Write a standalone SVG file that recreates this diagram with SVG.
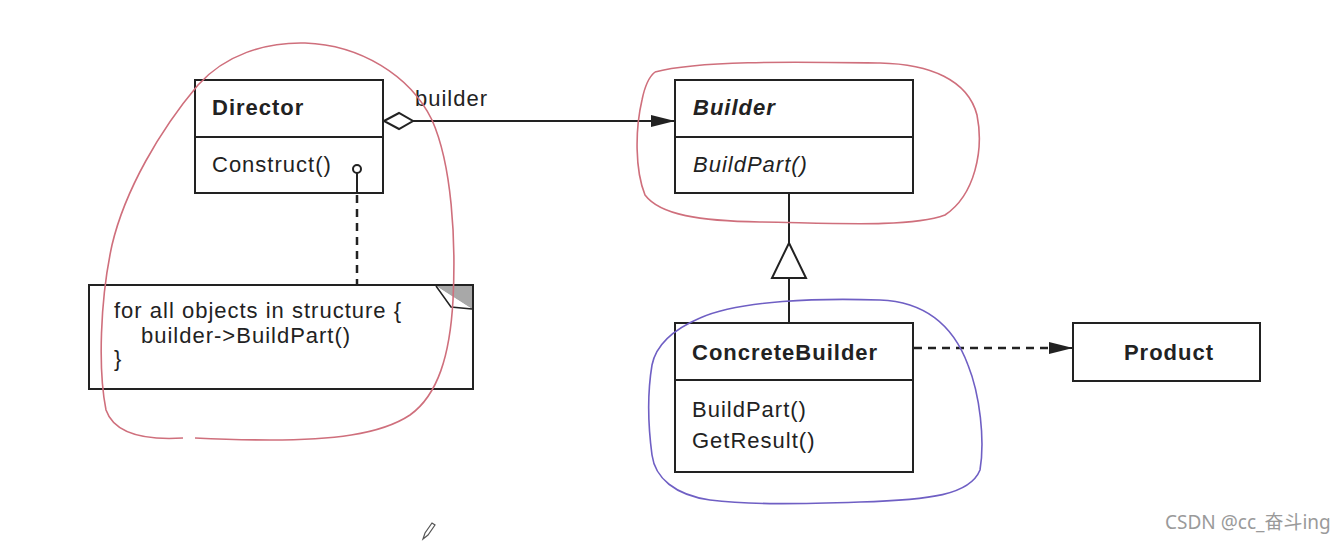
<svg xmlns="http://www.w3.org/2000/svg" width="1344" height="543" viewBox="0 0 1344 543">
  <style>
    .box { fill: #ffffff; stroke: #222222; stroke-width: 2; }
    .ln { stroke: #222222; stroke-width: 2; fill: none; }
    .dash { stroke: #222222; stroke-width: 2.5; fill: none; stroke-dasharray: 8 6; }
    .t { font-family: "Liberation Sans", Arial, sans-serif; font-size: 22px; fill: #222222; letter-spacing: 1px; }
    .b { font-weight: bold; }
    .i { font-style: italic; }
    .red { fill: none; stroke: #cf6f7c; stroke-width: 1.6; }
    .blue { fill: none; stroke: #6f5fc4; stroke-width: 1.6; }
  </style>
  <defs>
    <marker id="fill" viewBox="0 0 24 12" refX="24" refY="6" markerWidth="24" markerHeight="12" markerUnits="userSpaceOnUse" orient="auto">
      <path d="M0,0 L24,6 L0,12 Z" fill="#222222"/>
    </marker>
  </defs>
  <rect width="1344" height="543" fill="#ffffff"/>

  <g id="director">
    <rect class="box" x="195" y="80" width="188" height="113"/>
    <path class="ln" d="M195,137 L383,137"/>
    <text class="t b" x="212" y="115">Director</text>
    <text class="t" x="212" y="172">Construct()</text>
  </g>

  <g id="builder">
    <rect class="box" x="675" y="80" width="238" height="113"/>
    <path class="ln" d="M675,137 L913,137"/>
    <text class="t b i" x="693" y="115">Builder</text>
    <text class="t i" x="693" y="172">BuildPart()</text>
  </g>

  <g id="concretebuilder">
    <rect class="box" x="675" y="323" width="238" height="149"/>
    <path class="ln" d="M675,380 L913,380"/>
    <text class="t b" x="692" y="360">ConcreteBuilder</text>
    <text class="t" x="692" y="417">BuildPart()</text>
    <text class="t" x="692" y="448">GetResult()</text>
  </g>

  <g id="product">
    <rect class="box" x="1073" y="323" width="187" height="58"/>
    <text class="t b" x="1169" y="360" text-anchor="middle">Product</text>
  </g>

  <g id="note">
    <rect class="box" x="89" y="285" width="384" height="104"/>
    <path d="M436,286 L472,286 L472,309 Z" fill="#a8a8a8"/>
    <path d="M436,286 L451,307 L472,309" fill="#ffffff" stroke="#222222" stroke-width="1.5"/>
    <text class="t" x="114" y="318">for all objects in structure {</text>
    <text class="t" x="141" y="343">builder-&gt;BuildPart()</text>
    <text class="t" x="114" y="366">}</text>
  </g>

  <g id="connectors">
    <!-- aggregation Director -> Builder -->
    <path class="ln" d="M413,121 L675,121" marker-end="url(#fill)"/>
    <path d="M384,121 L399,113 L413,121 L399,129 Z" fill="#ffffff" stroke="#222222" stroke-width="2"/>
    <text class="t" x="415" y="106">builder</text>
    <!-- generalization -->
    <path class="ln" d="M789,193 L789,243"/>
    <path d="M789,243 L806,278 L772,278 Z" fill="#ffffff" stroke="#222222" stroke-width="2"/>
    <path class="ln" d="M789,278 L789,323"/>
    <!-- dependency ConcreteBuilder -> Product -->
    <path class="dash" d="M914,348 L1052,348"/>
    <path class="ln" d="M1050,348 L1073,348" marker-end="url(#fill)"/>
    <!-- note link -->
    <path class="ln" d="M357,173 L357,193"/>
    <path class="dash" d="M357,195 L357,285"/>
    <circle cx="357" cy="169" r="4" fill="#ffffff" stroke="#222222" stroke-width="2"/>
  </g>

  <g id="annotations">
    <path class="red" d="M183,438 C150,440 115,436 106,410 C98,370 100,300 112,245 C125,190 160,130 198,85 C225,55 265,42 305,43 C360,45 410,75 432,120 C452,165 456,240 453,300 C450,355 438,395 410,415 C380,435 330,440 270,440 C240,440 215,439 195,438"/>
    <path class="red" d="M655,72 C700,60 800,62 880,63 C930,64 968,80 977,115 C984,150 975,195 945,215 C910,228 830,223 760,222 C700,221 660,215 645,195 C635,170 635,130 642,100 C645,85 650,76 655,72"/>
    <path class="blue" d="M700,318 C740,300 820,298 880,300 C930,302 955,330 968,365 C980,395 985,440 980,470 C970,495 930,500 860,502 C800,504 750,505 710,500 C675,495 655,478 652,455 C648,425 647,395 652,365 C656,345 672,330 700,318"/>
    <path d="M423,539 L425,533 L432,523 L435,525 L428,535 Z" fill="#ffffff" stroke="#555555" stroke-width="1.2"/>
    <text x="1165" y="529" font-family="'Noto Sans', 'Noto Sans CJK SC', sans-serif" font-size="19" fill="#9a9a9a">CSDN @cc_奋斗ing</text>
  </g>
</svg>
